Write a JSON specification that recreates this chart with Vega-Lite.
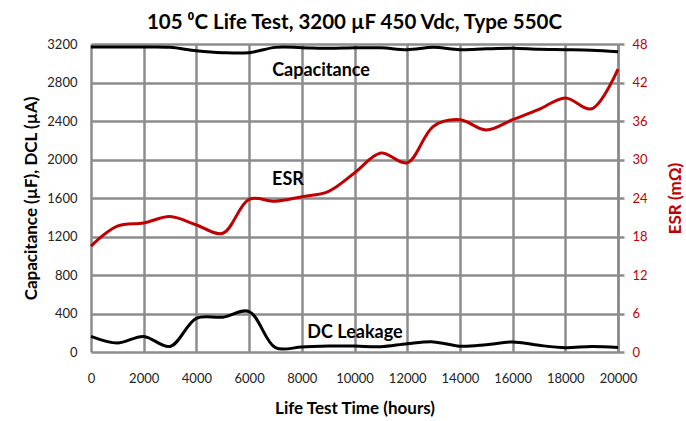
{
  "$schema": "https://vega.github.io/schema/vega-lite/v6.json",
  "width": 527,
  "height": 308,
  "autosize": {"type": "none"},
  "padding": {"left": 91, "top": 44, "right": 68, "bottom": 69},
  "background": "white",
  "config": {
    "view": {"stroke": null},
    "font": "Lato",
    "axis": {"labelFont": "Lato", "titleFont": "Lato"}
  },
  "title": {
    "text": "105 ⁰C Life Test, 3200 µF 450 Vdc, Type 550C",
    "fontSize": 20.5,
    "fontWeight": "bold",
    "font": "Lato",
    "color": "black",
    "anchor": "middle",
    "offset": 5
  },
  "datasets": {
    "main": [
      {"t": 0, "cap": 3170, "dcl": 162, "esr": 16.5},
      {"t": 1000, "cap": 3168, "dcl": 93, "esr": 19.6},
      {"t": 2000, "cap": 3168, "dcl": 162, "esr": 20.1},
      {"t": 3000, "cap": 3165, "dcl": 58, "esr": 21.1},
      {"t": 4000, "cap": 3130, "dcl": 350, "esr": 19.8},
      {"t": 5000, "cap": 3110, "dcl": 362, "esr": 18.5},
      {"t": 6000, "cap": 3110, "dcl": 420, "esr": 23.8},
      {"t": 7000, "cap": 3165, "dcl": 45, "esr": 23.5},
      {"t": 8000, "cap": 3162, "dcl": 52, "esr": 24.2},
      {"t": 9000, "cap": 3155, "dcl": 62, "esr": 25.0},
      {"t": 10000, "cap": 3160, "dcl": 62, "esr": 27.9},
      {"t": 11000, "cap": 3160, "dcl": 55, "esr": 31.0},
      {"t": 12000, "cap": 3141, "dcl": 86, "esr": 29.5},
      {"t": 13000, "cap": 3165, "dcl": 105, "esr": 35.2},
      {"t": 14000, "cap": 3141, "dcl": 60, "esr": 36.2},
      {"t": 15000, "cap": 3150, "dcl": 76, "esr": 34.6},
      {"t": 16000, "cap": 3155, "dcl": 105, "esr": 36.2},
      {"t": 17000, "cap": 3145, "dcl": 69, "esr": 37.8},
      {"t": 18000, "cap": 3141, "dcl": 45, "esr": 39.6},
      {"t": 19000, "cap": 3135, "dcl": 58, "esr": 37.9},
      {"t": 20000, "cap": 3120, "dcl": 48, "esr": 44.1}
    ],
    "labels": [
      {"t": 8730, "v": 2919, "label": "Capacitance"},
      {"t": 7476, "v": 1787, "label": "ESR"},
      {"t": 10020, "v": 197, "label": "DC Leakage"}
    ]
  },
  "layer": [
    {
      "encoding": {
        "x": {
          "field": "t", "type": "quantitative",
          "scale": {"domain": [0, 20000], "nice": false},
          "axis": {
            "values": [0, 2000, 4000, 6000, 8000, 10000, 12000, 14000, 16000, 18000, 20000],
            "format": "d",
            "title": "Life Test Time (hours)",
            "titleFontSize": 17, "titleFontWeight": "bold", "titleColor": "black", "titlePadding": 15,
            "labelFontSize": 13, "labelColor": "#222", "labelPadding": 20,
            "labelOverlap": false,
            "ticks": false, "domain": false,
            "grid": true, "gridColor": "#8c8c8c", "gridWidth": 2.5,
            "labelFlush": false
          }
        }
      },
      "layer": [
        {
          "data": {"name": "main"},
          "mark": {"type": "line", "color": "black", "strokeWidth": 3, "interpolate": "catmull-rom"},
          "encoding": {
            "y": {
              "field": "cap", "type": "quantitative",
              "scale": {"domain": [0, 3200], "nice": false},
              "axis": {
                "values": [0, 400, 800, 1200, 1600, 2000, 2400, 2800, 3200],
                "format": "d",
                "title": "Capacitance (µF), DCL (µA)",
                "titleFontSize": 17, "titleFontWeight": "bold", "titleColor": "black", "titlePadding": 6,
                "labelFontSize": 13, "labelColor": "#222", "labelPadding": 14,
                "labelOverlap": false,
                "ticks": false, "domain": false,
                "grid": true, "gridColor": "#8c8c8c", "gridWidth": 2.5
              }
            }
          }
        },
        {
          "data": {"name": "main"},
          "mark": {"type": "line", "color": "black", "strokeWidth": 3, "interpolate": "catmull-rom"},
          "encoding": {
            "y": {
              "field": "dcl", "type": "quantitative",
              "scale": {"domain": [0, 3200], "nice": false},
              "axis": {
                "values": [0, 400, 800, 1200, 1600, 2000, 2400, 2800, 3200],
                "format": "d",
                "title": "Capacitance (µF), DCL (µA)",
                "titleFontSize": 17, "titleFontWeight": "bold", "titleColor": "black", "titlePadding": 6,
                "labelFontSize": 13, "labelColor": "#222", "labelPadding": 14,
                "labelOverlap": false,
                "ticks": false, "domain": false,
                "grid": true, "gridColor": "#8c8c8c", "gridWidth": 2.5
              }
            }
          }
        },
        {
          "data": {"name": "labels"},
          "mark": {"type": "text", "font": "Lato", "fontSize": 18, "fontWeight": "bold", "color": "black"},
          "encoding": {
            "y": {
              "field": "v", "type": "quantitative",
              "scale": {"domain": [0, 3200], "nice": false},
              "axis": {
                "values": [0, 400, 800, 1200, 1600, 2000, 2400, 2800, 3200],
                "format": "d",
                "title": "Capacitance (µF), DCL (µA)",
                "titleFontSize": 17, "titleFontWeight": "bold", "titleColor": "black", "titlePadding": 6,
                "labelFontSize": 13, "labelColor": "#222", "labelPadding": 14,
                "labelOverlap": false,
                "ticks": false, "domain": false,
                "grid": true, "gridColor": "#8c8c8c", "gridWidth": 2.5
              }
            },
            "text": {"field": "label"}
          }
        }
      ]
    },
    {
      "data": {"name": "main"},
      "mark": {"type": "line", "color": "#c00000", "strokeWidth": 3, "interpolate": "catmull-rom"},
      "encoding": {
        "x": {
          "field": "t", "type": "quantitative",
          "scale": {"domain": [0, 20000], "nice": false},
          "axis": {
            "values": [0, 2000, 4000, 6000, 8000, 10000, 12000, 14000, 16000, 18000, 20000],
            "format": "d",
            "title": "Life Test Time (hours)",
            "titleFontSize": 17, "titleFontWeight": "bold", "titleColor": "black", "titlePadding": 15,
            "labelFontSize": 13, "labelColor": "#222", "labelPadding": 20,
            "labelOverlap": false,
            "ticks": false, "domain": false,
            "grid": true, "gridColor": "#8c8c8c", "gridWidth": 2.5,
            "labelFlush": false
          }
        },
        "y": {
          "field": "esr", "type": "quantitative",
          "scale": {"domain": [0, 48], "nice": false},
          "axis": {
            "orient": "right",
            "values": [0, 6, 12, 18, 24, 30, 36, 42, 48],
            "title": "ESR (mΩ)",
            "titleAngle": 270,
            "titleFontSize": 17, "titleFontWeight": "bold", "titleColor": "#c00000", "titlePadding": 37,
            "labelFontSize": 13, "labelColor": "#c00000", "labelPadding": 8,
            "labelOverlap": false,
            "ticks": true, "tickSize": 6, "tickColor": "#8c8c8c", "tickWidth": 2.5,
            "domain": true, "domainColor": "#8c8c8c", "domainWidth": 2.5,
            "grid": false
          }
        }
      }
    }
  ],
  "resolve": {"scale": {"y": "independent"}}
}
